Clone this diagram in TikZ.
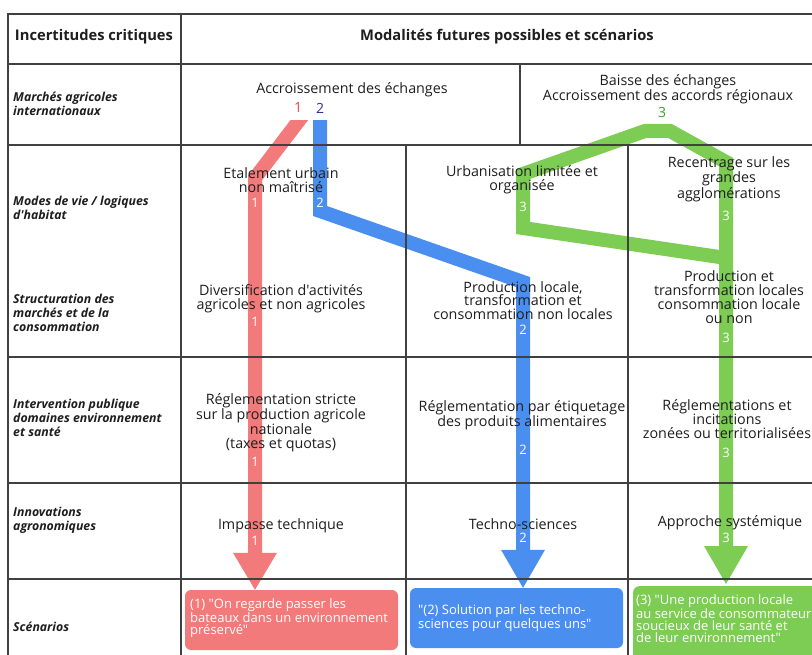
\documentclass[tikz,border=0pt]{standalone}
\usepackage{fontspec}
\setmainfont{Open Sans}[Ligatures=TeXOff]
\usetikzlibrary{calc}
\definecolor{redA}{HTML}{F37A7A}
\definecolor{blueA}{HTML}{4A8FEF}
\definecolor{greenA}{HTML}{7DCD55}
\definecolor{redL}{HTML}{E64646}
\definecolor{blueL}{HTML}{2832A0}
\definecolor{greenL}{HTML}{3CA032}
\definecolor{txt}{HTML}{1E1E1E}
\definecolor{gridc}{HTML}{404040}
\begin{document}
\begin{tikzpicture}[x=1pt,y=-1pt,
  cell/.style={align=center,inner sep=0pt,text=txt,font=\fontsize{14.3}{13.8}\selectfont},
  rowlab/.style={align=left,anchor=west,inner sep=0pt,text=txt,font=\fontsize{12.3}{14}\selectfont\bfseries\itshape},
  hdr/.style={inner sep=0pt,text=txt,font=\fontsize{14.7}{16}\selectfont\bfseries},
  onband/.style={inner sep=0pt,text=white,font=\fontsize{13}{13}\selectfont},
  toplab/.style={inner sep=0pt,font=\fontsize{14}{14}\selectfont},
  band/.style={line width=14pt,line join=miter,line cap=butt},
  sbox/.style={rounded corners=6pt,inner sep=0pt,draw=none},
  stext/.style={align=left,anchor=west,inner sep=0pt,text=white,font=\fontsize{13}{11.8}\selectfont},
  tline/.style={draw=gridc,line width=1.3pt}]
\useasboundingbox (0,0) rectangle (812,655);
\fill[white] (0,0) rectangle (812,655);
\begin{scope}
\clip (0,0) rectangle (812,655);

% scenario boxes
\node[sbox,fill=redA,minimum width=213pt,minimum height=60pt] (s1) at (291.5,620) {};
\node[sbox,fill=blueA,minimum width=213pt,minimum height=60pt] (s2) at (516.5,618) {};
\node[sbox,fill=greenA,minimum width=220pt,minimum height=80pt,anchor=north west] (s3) at (633,586) {};

% waypoints of the scenario paths
\coordinate (r0) at (307,110);
\coordinate (r1) at (255,178);
\coordinate (rt) at (s1.north -| r1);
\coordinate (b0) at (320,110);
\coordinate (b1) at (320,211);
\coordinate (b2) at (523,282);
\coordinate (bt) at (s2.north -| b2);
\coordinate (g0) at (726,258);
\coordinate (g1) at (523,228);
\coordinate (g2) at (523,174);
\coordinate (g3) at (645,131);
\coordinate (g4) at (670,131);
\coordinate (g5) at (726,162);
\coordinate (gt) at (s3.north -| g5);

\begin{scope}
\clip (0,121) rectangle (812,655);
\draw[band,redA] (r0) -- (r1) -- ($(rt)+(0,-36)$);
\draw[band,blueA] (b0) -- (b1) -- (b2) -- ($(bt)+(0,-37)$);
\end{scope}
\draw[band,greenA] (g0) -- (g1) -- (g2) -- (g3) -- (g4) -- (g5) -- ($(gt)+(0,-38)$);
\fill[redA] ($(rt)+(-22,-37)$) -- ($(rt)+(22,-37)$) -- (rt) -- cycle;
\fill[blueA] ($(bt)+(-22,-38)$) -- ($(bt)+(22,-38)$) -- (bt) -- cycle;
\fill[greenA] ($(gt)+(-22,-40)$) -- ($(gt)+(22,-40)$) -- ($(gt)+(0,-2)$) -- cycle;

% table lines
\draw[tline] (8,655) -- (8,14) -- (812,14);
\draw[tline] (8,64) -- (812,64);
\draw[tline] (8,145) -- (812,145);
\draw[tline] (8,357) -- (812,357);
\draw[tline] (8,483) -- (812,483);
\draw[tline] (8,579) -- (812,579);
\draw[tline] (181,14) -- (181,655);
\draw[tline] (520,64) -- (520,145);
\draw[tline] (406,145) -- (406,655);
\draw[tline] (628,145) -- (628,655);

% headers
\node[hdr] (h1) at (94,37) {Incertitudes critiques};
\node[hdr] (h2) at (507,37) {Modalités futures possibles et scénarios};

% row labels
\node[rowlab] (l1) at (13,103.5) {Marchés agricoles\\internationaux};
\node[rowlab] (l2) at (13,208) {Modes de vie / logiques\\d'habitat};
\node[rowlab] (l3) at (13,313) {Structuration des\\marchés et de la\\consommation};
\node[rowlab] (l4) at (13,417.5) {Intervention publique\\domaines environnement\\et santé};
\node[rowlab] (l5) at (13,520) {Innovations\\agronomiques};
\node[rowlab] (l6) at (13,627) {Scénarios};

% row 2
\node[cell] (m1) at (352,90) {Accroissement des échanges};
\node[cell] (m2) at (668,89.5) {Baisse des échanges\\Accroissement des accords régionaux};
\node[toplab,text=redL] (n1) at (298,108) {1};
\node[toplab,text=blueL] (n2) at (320,108) {2};
\node[toplab,text=greenL] (n3) at (662,113) {3};

% column 1
\node[cell] (a1) at (281,180.5) {Etalement urbain\\non maîtrisé};
\node[cell] (a2) at (281,298.5) {Diversification d'activités\\agricoles et non agricoles};
\node[cell] (a3) at (281,422.5) {Réglementation stricte\\sur la production agricole\\nationale\\(taxes et quotas)};
\node[cell] (a4) at (281,526) {Impasse technique};

% column 2
\node[cell] (c1) at (522,180) {Urbanisation limitée et\\organisée};
\node[cell] (c2) at (523,300.5) {Production locale,\\transformation et\\consommation non locales};
\node[cell] (c3) at (522,415) {Réglementation par étiquetage\\des produits alimentaires};
\node[cell] (c4) at (523,524) {Techno-sciences};

% column 3
\node[cell] (d1) at (729,179) {Recentrage sur les\\grandes\\agglomérations};
\node[cell] (d2) at (729,297) {Production et\\transformation locales\\consommation locale\\ou non};
\node[cell] (d3) at (727,419) {Réglementations et\\incitations\\zonées ou territorialisées};
\node[cell] (d4) at (730,523) {Approche systémique};

% numbers on the bands
\node[onband] (o11) at (255,203) {1};
\node[onband] (o12) at (255,322) {1};
\node[onband] (o13) at (255,462) {1};
\node[onband] (o14) at (255,541) {1};
\node[onband] (o21) at (320,203) {2};
\node[onband] (o22) at (523,330) {2};
\node[onband] (o23) at (523,450) {2};
\node[onband] (o24) at (523,538) {2};
\node[onband] (o31) at (523,207) {3};
\node[onband] (o32) at (726,216) {3};
\node[onband] (o33) at (726,338) {3};
\node[onband] (o34) at (726,453) {3};
\node[onband] (o35) at (726,538) {3};

% scenario texts
\node[stext] (t1) at (190,618.5) {(1) "On regarde passer les\\bateaux dans un environnement\\préservé"};
\node[stext] (t2) at (418,618.5) {"(2) Solution par les techno-\\sciences pour quelques uns"};
\node[stext] (t3) at (636,618.5) {(3) "Une production locale\\au service de consommateur\\soucieux de leur santé et\\de leur environnement"};
\end{scope}
\end{tikzpicture}
\end{document}
